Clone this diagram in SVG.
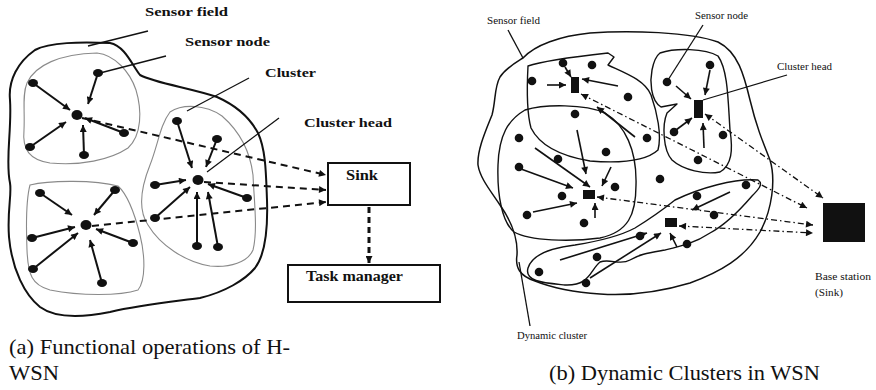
<svg xmlns="http://www.w3.org/2000/svg" width="876" height="390" viewBox="0 0 876 390">
  <defs>
    <style>
      .bg { fill: #ffffff; }
      .field { fill: none; stroke: #111; stroke-width: 2; stroke-linejoin: round; }
      .field-thin { fill: none; stroke: #111; stroke-width: 1.5; stroke-linejoin: round; }
      .cluster { fill: none; stroke: #8a8a8a; stroke-width: 1.1; }
      .cluster-r { fill: none; stroke: #111; stroke-width: 1.4; stroke-linejoin: round; }
      .leader { fill: none; stroke: #111; stroke-width: 1.3; }
      .sn { fill: #111; }
      .link { fill: none; stroke: #111; stroke-width: 2; marker-end: url(#ah); }
      .link-r { fill: none; stroke: #111; stroke-width: 1.6; marker-end: url(#ahs); }
      .dash { fill: none; stroke: #111; stroke-width: 2; stroke-dasharray: 7 5; marker-end: url(#ah); }
      .dashdot { fill: none; stroke: #111; stroke-width: 1.3; stroke-dasharray: 6 3 1.5 3; marker-start: url(#ahd); marker-end: url(#ahd); }
      .box { fill: #fff; stroke: #111; stroke-width: 2; }
      text { font-family: "Liberation Serif", "Times New Roman", Times, serif; fill: #111; }
      .lblB { font-weight: bold; font-size: 13px; }
      .lblR { font-size: 11px; }
      .cap { font-size: 21px; }
    </style>
    <marker id="ah" viewBox="0 0 10 10" refX="10" refY="5" markerWidth="9" markerHeight="7" markerUnits="userSpaceOnUse" orient="auto">
      <path d="M0,0 L10,5 L0,10 z" fill="#111"/>
    </marker>
    <marker id="ahs" viewBox="0 0 10 10" refX="10" refY="5" markerWidth="8" markerHeight="7" markerUnits="userSpaceOnUse" orient="auto">
      <path d="M0,0 L10,5 L0,10 z" fill="#111"/>
    </marker>
    <marker id="ahd" viewBox="0 0 10 10" refX="10" refY="5" markerWidth="10" markerHeight="7" markerUnits="userSpaceOnUse" orient="auto-start-reverse">
      <path d="M0,0 L10,5 L0,10 z" fill="#111"/>
    </marker>
  </defs>

  <rect class="bg" x="0" y="0" width="876" height="390"/>

  <!-- ===== (a) Hierarchical WSN ===== -->
  <g id="a-field">
    <path class="field" d="M10,183 C5,160 12,130 10,100 C8,80 18,62 35,50 C50,42 80,42 110,43 C125,46 132,65 140,75 C155,83 190,88 217,97 C235,105 250,118 258,133 C266,150 266,175 267,200 C268,230 265,255 255,268 C245,280 225,292 200,298 C170,302 140,305 110,312 C80,318 55,318 40,307 C25,295 12,270 9,237 C7,210 12,195 10,183 Z"/>
  </g>

  <g id="a-clusters">
    <path class="cluster" d="M27,83 C35,65 60,54 97,53 C115,55 130,72 136,90 C142,110 142,135 128,148 C110,160 80,166 50,163 C30,160 22,150 24,130 C25,110 22,95 27,83 Z"/>
    <path class="cluster" d="M30,185 C50,180 95,180 118,186 C128,195 135,215 140,235 C145,255 146,280 138,290 C120,296 80,296 50,290 C32,285 28,275 27,250 C26,225 26,200 30,185 Z"/>
    <path class="cluster" d="M170,112 C182,104 205,104 222,116 C238,130 250,150 253,175 C254,200 258,230 253,250 C248,262 230,268 210,266 C185,262 160,245 148,225 C138,210 140,190 150,165 C158,145 160,125 170,112 Z"/>
  </g>

  <g id="a-labels">
    <text class="lblB" x="145" y="16" textLength="83" lengthAdjust="spacingAndGlyphs">Sensor field</text>
    <line class="leader" x1="148" y1="31" x2="88" y2="46"/>
    <text class="lblB" x="185" y="46" textLength="85" lengthAdjust="spacingAndGlyphs">Sensor node</text>
    <line class="leader" x1="166" y1="56" x2="100" y2="73"/>
    <text class="lblB" x="265" y="77" textLength="51" lengthAdjust="spacingAndGlyphs">Cluster</text>
    <line class="leader" x1="249" y1="78" x2="187" y2="111"/>
    <text class="lblB" x="304" y="127" textLength="88" lengthAdjust="spacingAndGlyphs">Cluster head</text>
    <line class="leader" x1="279" y1="118" x2="207" y2="172"/>
  </g>

  <g id="a-links">
    <!-- cluster 1 -->
    <line class="link" x1="33" y1="83" x2="70" y2="110"/>
    <line class="link" x1="98" y1="73" x2="88" y2="104"/>
    <line class="link" x1="124" y1="133" x2="85" y2="118"/>
    <line class="link" x1="30" y1="147" x2="66" y2="122"/>
    <line class="link" x1="84" y1="155" x2="83" y2="125"/>
    <!-- cluster 2 -->
    <line class="link" x1="40" y1="193" x2="72" y2="215"/>
    <line class="link" x1="115" y1="190" x2="94" y2="215"/>
    <line class="link" x1="32" y1="238" x2="75" y2="227"/>
    <line class="link" x1="133" y1="243" x2="96" y2="229"/>
    <line class="link" x1="33" y1="269" x2="78" y2="233"/>
    <line class="link" x1="102" y1="283" x2="90" y2="240"/>
    <!-- cluster 3 -->
    <line class="link" x1="177" y1="121" x2="192" y2="168"/>
    <line class="link" x1="217" y1="139" x2="206" y2="167"/>
    <line class="link" x1="155" y1="185" x2="186" y2="180"/>
    <line class="link" x1="247" y1="198" x2="208" y2="184"/>
    <line class="link" x1="155" y1="218" x2="190" y2="187"/>
    <line class="link" x1="197" y1="246" x2="197" y2="192"/>
    <line class="link" x1="218" y1="247" x2="208" y2="192"/>
    <!-- heads to sink -->
    <line class="dash" x1="82" y1="118" x2="326" y2="175"/>
    <line class="dash" x1="204" y1="182" x2="326" y2="190"/>
    <line class="dash" x1="92" y1="226" x2="326" y2="202"/>
    <line class="dash" x1="369" y1="207" x2="369" y2="263" style="stroke-width:3;stroke-dasharray:6 4"/>
  </g>

  <g id="a-nodes">
    <ellipse class="sn" cx="77" cy="115" rx="5.5" ry="5"/>
    <ellipse class="sn" cx="33" cy="83" rx="5" ry="4"/>
    <ellipse class="sn" cx="98" cy="73" rx="5" ry="4"/>
    <ellipse class="sn" cx="124" cy="133" rx="5" ry="4"/>
    <ellipse class="sn" cx="30" cy="147" rx="5" ry="4"/>
    <ellipse class="sn" cx="84" cy="155" rx="5" ry="4"/>

    <ellipse class="sn" cx="86" cy="225" rx="5.5" ry="5"/>
    <ellipse class="sn" cx="40" cy="193" rx="5" ry="4"/>
    <ellipse class="sn" cx="115" cy="190" rx="5" ry="4"/>
    <ellipse class="sn" cx="32" cy="238" rx="5" ry="4"/>
    <ellipse class="sn" cx="133" cy="243" rx="5" ry="4"/>
    <ellipse class="sn" cx="33" cy="269" rx="5" ry="4"/>
    <ellipse class="sn" cx="102" cy="283" rx="5" ry="4"/>

    <ellipse class="sn" cx="198" cy="180" rx="5.5" ry="5"/>
    <ellipse class="sn" cx="177" cy="121" rx="5" ry="4"/>
    <ellipse class="sn" cx="217" cy="139" rx="5" ry="4"/>
    <ellipse class="sn" cx="155" cy="185" rx="5" ry="4"/>
    <ellipse class="sn" cx="247" cy="198" rx="5" ry="4"/>
    <ellipse class="sn" cx="155" cy="218" rx="5" ry="4"/>
    <ellipse class="sn" cx="197" cy="246" rx="5" ry="4"/>
    <ellipse class="sn" cx="218" cy="247" rx="5" ry="4"/>
  </g>

  <g id="sink">
    <rect class="box" x="328" y="163" width="82" height="42"/>
    <text class="lblB" x="346" y="180" textLength="32" lengthAdjust="spacingAndGlyphs" style="font-size:14px">Sink</text>
  </g>

  <g id="task-manager">
    <rect class="box" x="288" y="265" width="152" height="37"/>
    <text class="lblB" x="306" y="281" textLength="97" lengthAdjust="spacingAndGlyphs" style="font-size:14px">Task manager</text>
  </g>

  <g id="caption-a">
    <text class="cap" x="9" y="354" textLength="281" lengthAdjust="spacingAndGlyphs">(a) Functional operations of H-</text>
    <text class="cap" x="9" y="380" textLength="50" lengthAdjust="spacingAndGlyphs">WSN</text>
  </g>

  <!-- ===== (b) Dynamic clusters ===== -->
  <g id="b-field">
    <path class="field-thin" d="M523,58 C535,45 560,36 590,33 C630,30 690,32 718,42 C738,52 744,75 750,100 C756,125 762,140 770,160 C776,180 772,210 760,232 C745,258 720,272 690,283 C660,292 630,296 600,294 C570,292 550,287 535,281 C520,276 515,268 517,255 C518,238 512,222 500,205 C490,190 480,178 478,165 C477,150 486,130 492,115 C496,100 494,88 500,77 C506,68 515,63 523,58 Z"/>
  </g>

  <g id="b-clusters">
    <path class="cluster-r" d="M528,66 C545,60 590,55 608,53 L614,57 L608,65 C625,73 645,80 651,95 C657,112 662,135 658,150 C645,162 615,163 590,161 C560,156 540,146 531,128 C526,110 527,85 528,66 Z"/>
    <path class="cluster-r" d="M660,53 C675,48 705,48 718,56 C728,70 728,100 730,130 C733,150 732,165 720,172 C705,175 683,170 672,160 C663,150 662,125 667,113 L677,104 L661,107 C650,100 650,80 652,70 C654,60 656,56 660,53 Z"/>
    <path class="cluster-r" d="M525,110 C545,104 585,104 605,113 C625,125 637,150 636,185 C636,215 628,232 600,238 C570,242 530,241 514,232 C502,222 497,195 498,165 C499,135 508,120 525,110 Z"/>
    <path class="cluster-r" d="M528,268 C532,255 550,248 575,245 C600,241 620,236 635,228 C648,220 660,212 675,200 C700,188 735,178 758,180 C764,184 758,190 752,196 C740,210 725,225 710,233 C695,243 682,246 665,250 C648,253 640,254 630,260 C620,266 610,258 600,262 C590,270 590,286 565,285 C545,283 524,282 528,268 Z"/>
  </g>

  <g id="b-labels">
    <text class="lblR" x="487" y="24" textLength="53" lengthAdjust="spacingAndGlyphs">Sensor field</text>
    <line class="leader" x1="508" y1="30" x2="523" y2="58"/>
    <text class="lblR" x="695" y="19" textLength="53" lengthAdjust="spacingAndGlyphs">Sensor node</text>
    <line class="leader" x1="703" y1="25" x2="668" y2="80"/>
    <text class="lblR" x="777" y="70" textLength="55" lengthAdjust="spacingAndGlyphs">Cluster head</text>
    <line class="leader" x1="787" y1="75" x2="703" y2="100"/>
    <text class="lblR" x="517" y="339" textLength="70" lengthAdjust="spacingAndGlyphs">Dynamic cluster</text>
    <line class="leader" x1="530" y1="326" x2="519" y2="262"/>
    <text class="lblR" x="815" y="280" textLength="56" lengthAdjust="spacingAndGlyphs">Base station</text>
    <text class="lblR" x="815" y="296" textLength="28" lengthAdjust="spacingAndGlyphs">(Sink)</text>
  </g>

  <g id="b-links">
    <!-- cluster A -->
    <line class="link-r" x1="547" y1="85" x2="566" y2="85"/>
    <line class="link-r" x1="565" y1="67" x2="571" y2="77"/>
    <line class="link-r" x1="618" y1="86" x2="582" y2="79"/>
    <line class="link-r" x1="635" y1="137" x2="597" y2="107"/>
    <!-- cluster B -->
    <line class="link-r" x1="710" y1="70" x2="705" y2="95"/>
    <line class="link-r" x1="676" y1="86" x2="691" y2="99"/>
    <line class="link-r" x1="676" y1="130" x2="692" y2="118"/>
    <line class="link-r" x1="704" y1="148" x2="703" y2="123"/>
    <!-- cluster C -->
    <line class="link-r" x1="577" y1="130" x2="586" y2="174"/>
    <line class="link-r" x1="535" y1="148" x2="590" y2="187"/>
    <line class="link-r" x1="521" y1="169" x2="573" y2="188"/>
    <line class="link-r" x1="611" y1="167" x2="602" y2="186"/>
    <line class="link-r" x1="533" y1="212" x2="577" y2="203"/>
    <line class="link-r" x1="595" y1="218" x2="595" y2="203"/>
    <!-- cluster D -->
    <line class="link-r" x1="730" y1="192" x2="692" y2="210"/>
    <line class="link-r" x1="590" y1="278" x2="661" y2="233"/>
    <line class="link-r" x1="560" y1="260" x2="647" y2="233"/>
    <line class="link-r" x1="677" y1="247" x2="670" y2="233"/>
    <!-- heads to base station -->
    <line class="dashdot" x1="581" y1="94" x2="807" y2="208"/>
    <line class="dashdot" x1="705" y1="114" x2="823" y2="198"/>
    <line class="dashdot" x1="597" y1="197" x2="813" y2="225"/>
    <line class="dashdot" x1="679" y1="226" x2="813" y2="233"/>
  </g>

  <g id="b-nodes">
    <rect class="sn" x="571" y="77" width="8" height="16"/>
    <rect class="sn" x="694" y="100" width="9" height="18"/>
    <rect class="sn" x="583" y="190" width="12" height="9"/>
    <rect class="sn" x="665" y="218" width="12" height="9"/>

    <circle class="sn" cx="563" cy="63" r="4.3"/>
    <circle class="sn" cx="592" cy="65" r="4.3"/>
    <circle class="sn" cx="532" cy="81" r="4.3"/>
    <circle class="sn" cx="628" cy="97" r="4.3"/>
    <circle class="sn" cx="575" cy="114" r="4.3"/>
    <circle class="sn" cx="647" cy="138" r="4.3"/>
    <circle class="sn" cx="519" cy="138" r="4.3"/>
    <circle class="sn" cx="606" cy="152" r="4.3"/>
    <circle class="sn" cx="558" cy="159" r="4.3"/>
    <circle class="sn" cx="519" cy="167" r="4.3"/>
    <circle class="sn" cx="710" cy="65" r="4.3"/>
    <circle class="sn" cx="667" cy="82" r="4.3"/>
    <circle class="sn" cx="674" cy="132" r="4.3"/>
    <circle class="sn" cx="723" cy="135" r="4.3"/>
    <circle class="sn" cx="698" cy="160" r="4.3"/>
    <circle class="sn" cx="660" cy="179" r="4.3"/>
    <circle class="sn" cx="615" cy="187" r="4.3"/>
    <circle class="sn" cx="562" cy="196" r="4.3"/>
    <circle class="sn" cx="527" cy="215" r="4.3"/>
    <circle class="sn" cx="584" cy="223" r="4.3"/>
    <circle class="sn" cx="697" cy="196" r="4.3"/>
    <circle class="sn" cx="714" cy="215" r="4.3"/>
    <circle class="sn" cx="746" cy="185" r="4.3"/>
    <circle class="sn" cx="687" cy="244" r="4.3"/>
    <circle class="sn" cx="597" cy="257" r="4.3"/>
    <circle class="sn" cx="539" cy="272" r="4.3"/>
    <circle class="sn" cx="586" cy="283" r="4.3"/>
    <circle class="sn" cx="640" cy="236" r="4.3"/>
  </g>

  <g id="base-station">
    <rect class="sn" x="823" y="203" width="42" height="39"/>
  </g>

  <g id="caption-b">
    <text class="cap" x="549" y="380" textLength="271" lengthAdjust="spacingAndGlyphs">(b) Dynamic Clusters in WSN</text>
  </g>
</svg>
